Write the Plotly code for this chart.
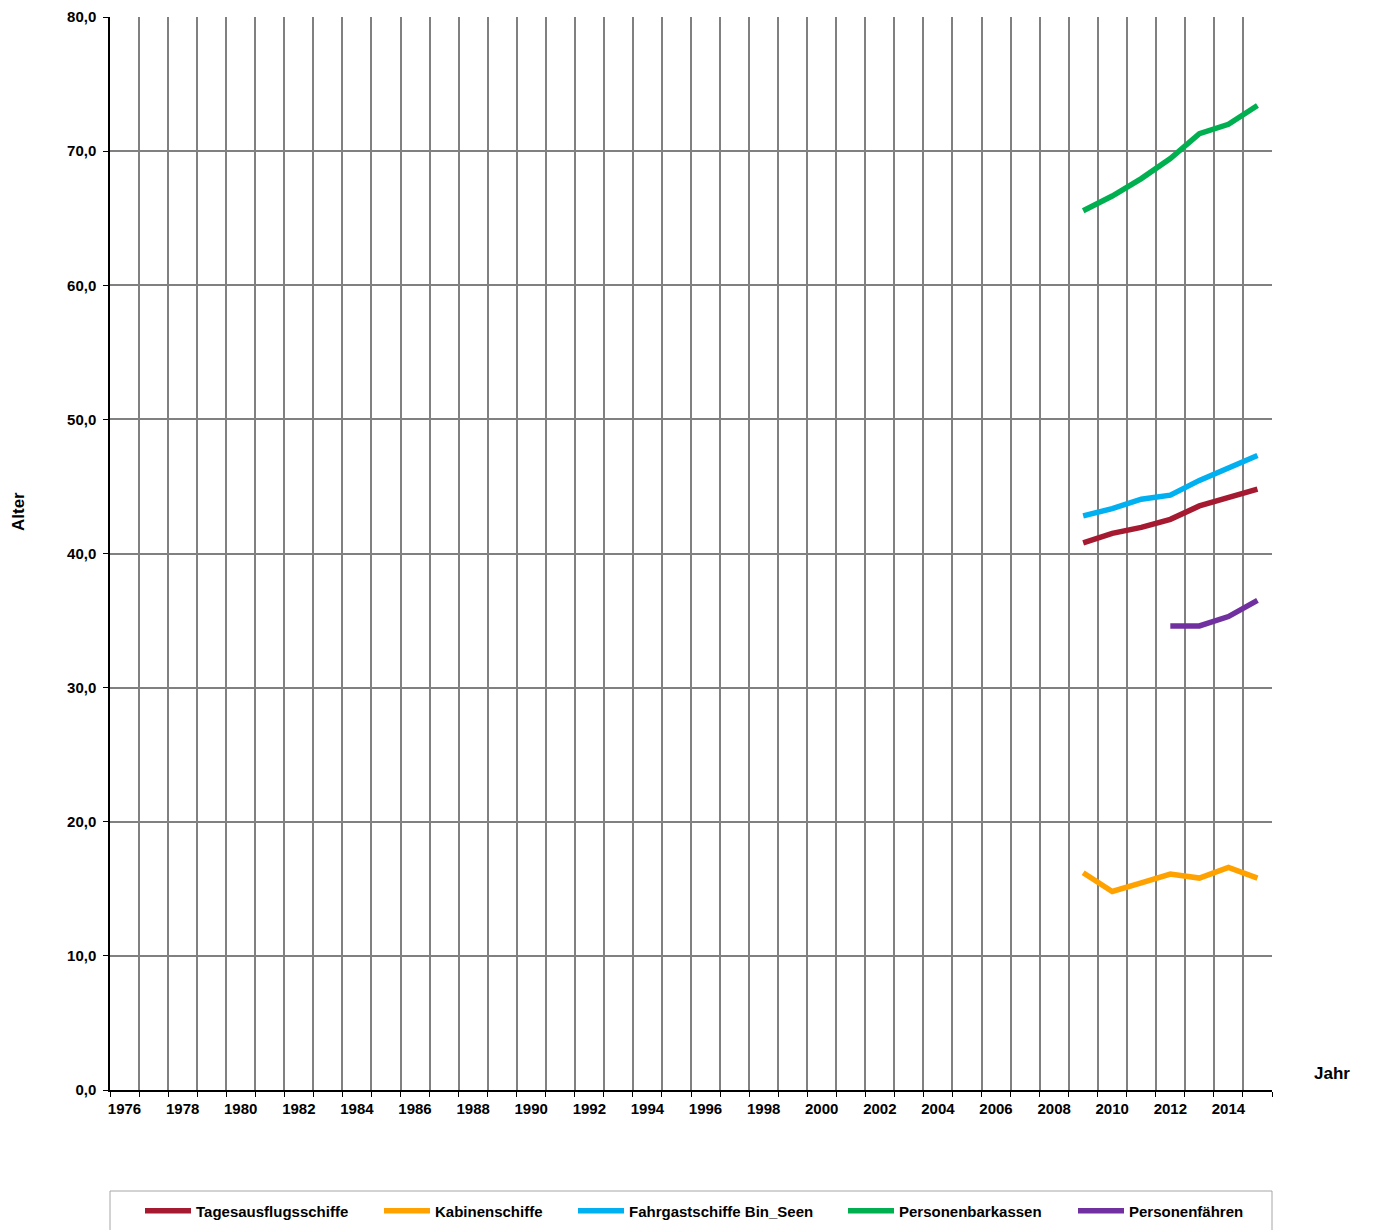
import plotly.graph_objects as go

years_all = list(range(1976, 2016))
years = [2009, 2010, 2011, 2012, 2013, 2014, 2015]
tages = [40.8, 41.5, 41.95, 42.55, 43.55, 44.2, 44.8]
kabinen = [16.2, 14.8, 15.45, 16.1, 15.8, 16.6, 15.8]
fahrgast = [42.8, 43.35, 44.05, 44.35, 45.45, 46.35, 47.3]
barkassen = [65.55, 66.65, 67.95, 69.45, 71.3, 72.0, 73.4]
faehren_years = [2012, 2013, 2014, 2015]
faehren = [34.6, 34.6, 35.3, 36.5]

series = [
    ("Tagesausflugsschiffe", years, tages, "#A51A30"),
    ("Kabinenschiffe", years, kabinen, "#FFA200"),
    ("Fahrgastschiffe Bin_Seen", years, fahrgast, "#00B0F0"),
    ("Personenbarkassen", years, barkassen, "#00B050"),
    ("Personenfähren", faehren_years, faehren, "#7030A0"),
]
legend_starts = [145, 384, 578, 848, 1078]  # pixel x of each legend entry

FONT = "Arial, 'Liberation Sans', sans-serif"

W, H = 1373, 1230
L, R, T, B = 110, 101, 17, 140
ph = H - T - B
pw = W - L - R

fig = go.Figure()
legend_layouts = {}
for i, (name, xs, ys, col) in enumerate(series):
    lid = "legend" if i == 0 else f"legend{i+1}"
    fig.add_trace(go.Scatter(x=xs, y=ys, name=name, mode="lines",
                             line=dict(color=col, width=5.5), legend=lid))
    legend_layouts[lid] = dict(
        orientation="h", xref="container", yref="container",
        x=(legend_starts[i] - 5) / W, xanchor="left",
        y=1 - 1211 / H, yanchor="middle",
        bgcolor="rgba(0,0,0,0)", borderwidth=0,
        font=dict(family=FONT, size=15, color="black", weight="bold"),
        itemwidth=46)

fig.update_layout(
    width=W, height=H,
    margin=dict(l=L, r=R, t=T, b=B, autoexpand=False),
    paper_bgcolor="white", plot_bgcolor="white",
    separators=",.",
    font=dict(family=FONT, size=15, color="black"),
    showlegend=True,
    xaxis=dict(
        range=[years_all[0] - 0.5, years_all[-1] + 0.5],
        tickmode="linear", tick0=1976, dtick=2,
        showgrid=False, zeroline=False, automargin=False,
        ticks="", ticklabelstandoff=4,
        showline=True, linecolor="black", linewidth=1.5,
        tickfont=dict(family=FONT, size=15, color="black", weight="bold"),
        minor=dict(tick0=1975.5, dtick=1, showgrid=True, gridcolor="#808080",
                   gridwidth=2, ticks="outside", ticklen=5, tickcolor="black",
                   tickwidth=1),
    ),
    yaxis=dict(
        range=[0, 80], tickmode="linear", tick0=0, dtick=10,
        tickformat=".1f", showgrid=True, gridcolor="#808080", gridwidth=2,
        zeroline=False, showline=True, linecolor="black", linewidth=1.5,
        automargin=False,
        ticks="outside", ticklen=5, tickcolor="black", ticklabelstandoff=4,
        tickfont=dict(family=FONT, size=15, color="black", weight="bold"),
    ),
    shapes=[dict(type="rect", xref="paper", yref="paper",
                 x0=0, x1=1, y0=-(1191 - 1090) / ph, y1=-(1250 - 1090) / ph,
                 line=dict(color="#A6A6A6", width=1), fillcolor="rgba(0,0,0,0)")],
    annotations=[
        dict(text="<b>Alter</b>", xref="paper", yref="paper",
             x=-(L - 18) / pw, y=(1090 - 512) / ph, textangle=-90,
             xanchor="center", yanchor="middle",
             showarrow=False, font=dict(family=FONT, size=17, color="black")),
        dict(text="<b>Jahr</b>", xref="paper", yref="paper",
             x=(1332 - L) / pw, y=(1090 - 1073) / ph,
             xanchor="center", yanchor="middle",
             showarrow=False, font=dict(family=FONT, size=17, color="black")),
    ],
)
fig.update_layout(**legend_layouts)

fig.write_html("out.html", config={"displayModeBar": False},
               post_script="document.body.style.margin='0';document.body.style.overflow='hidden';")
